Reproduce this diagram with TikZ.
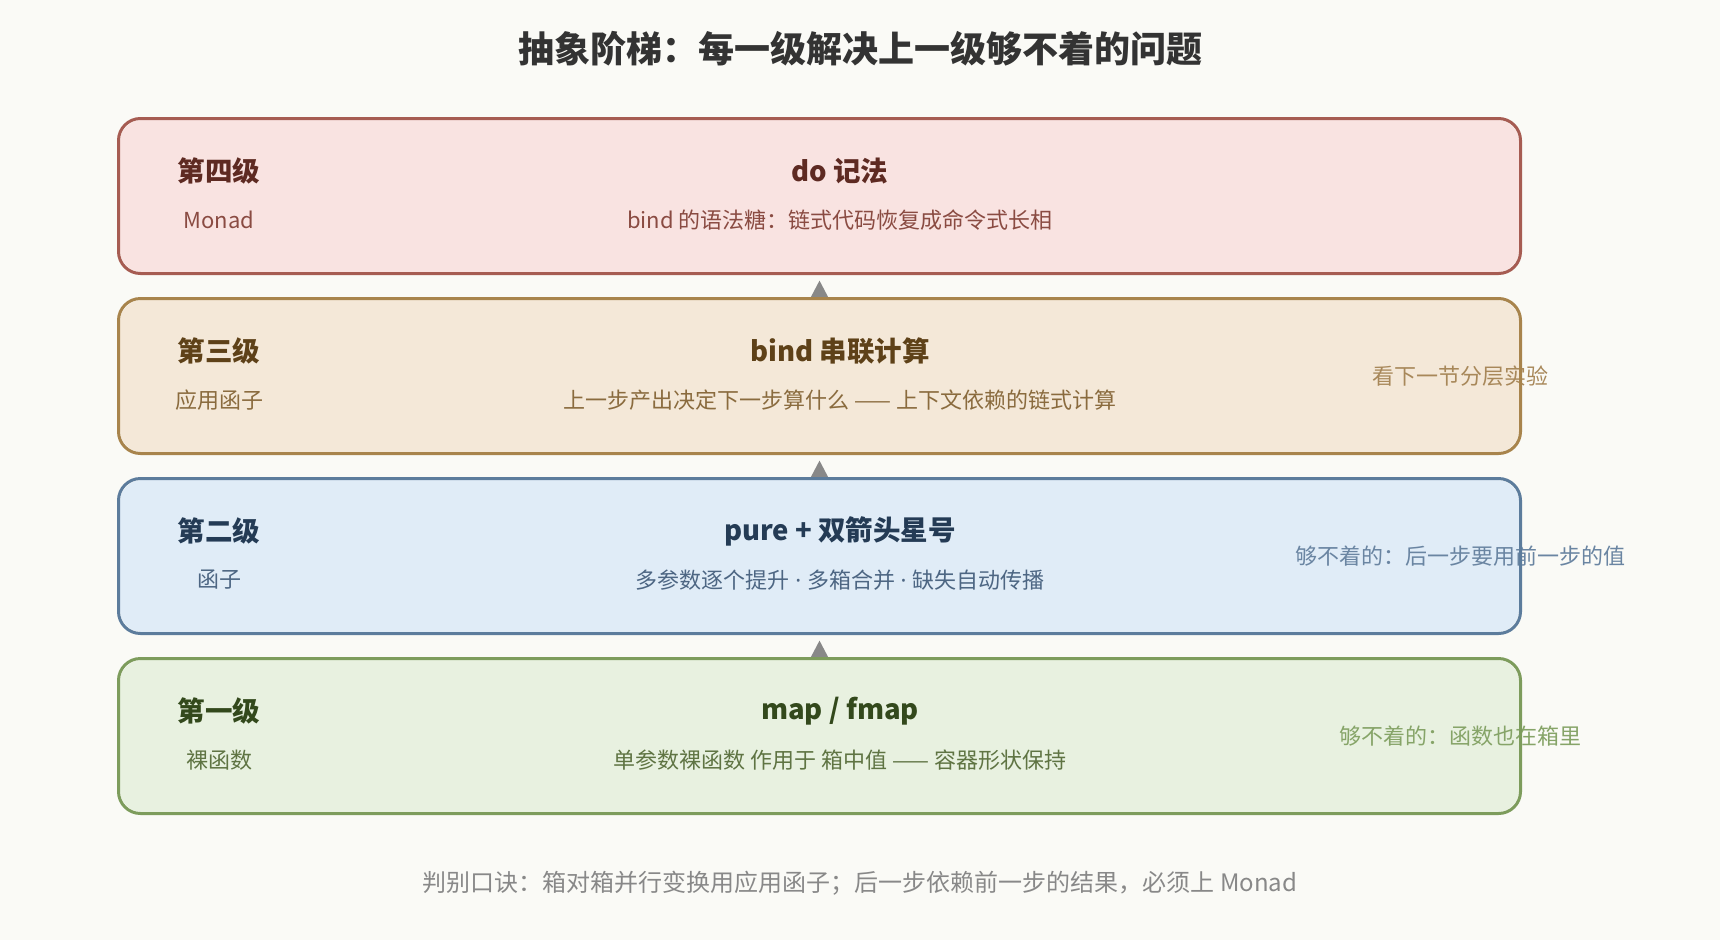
\documentclass[tikz,border=0pt]{standalone}
\usepackage{fontspec}
\setmainfont{Noto Sans CJK SC}
\newfontfamily\latinfont{Noto Sans}
\newcommand{\mdot}{{\latinfont\ ·\ }}
\usetikzlibrary{arrows.meta}
\definecolor{bg}{HTML}{FAFAF6}
\definecolor{fA}{HTML}{F9E3E1}\definecolor{dA}{HTML}{A65C52}\definecolor{tA}{HTML}{5E2A22}\definecolor{sA}{HTML}{8A4B42}
\definecolor{fB}{HTML}{F4E8D8}\definecolor{dB}{HTML}{A8844C}\definecolor{tB}{HTML}{5E4118}\definecolor{sB}{HTML}{8A6B3E}\definecolor{nB}{HTML}{A8885A}
\definecolor{fC}{HTML}{E0ECF7}\definecolor{dC}{HTML}{5C7C9C}\definecolor{tC}{HTML}{243B55}\definecolor{sC}{HTML}{4D6683}\definecolor{nC}{HTML}{6A85A2}
\definecolor{fD}{HTML}{E8F1E0}\definecolor{dD}{HTML}{7D9C5C}\definecolor{tD}{HTML}{33491C}\definecolor{sD}{HTML}{5F7443}\definecolor{nD}{HTML}{86A468}
\definecolor{arr}{HTML}{888888}
\tikzset{
  levelbox/.style={rectangle, rounded corners=22pt, minimum width=1399pt, minimum height=152pt, inner sep=0pt, line width=3pt},
  boxedge/.style={rounded corners=22pt, line width=3pt},
  ttl/.style={font=\fontsize{27.5}{32}\selectfont\bfseries, anchor=center, inner sep=0pt},
  sub/.style={font=\fontsize{22}{26}\selectfont, anchor=center, inner sep=0pt},
  note/.style={font=\fontsize{22}{26}\selectfont, anchor=center, inner sep=0pt},
  uparrow/.style={draw=arr, fill=arr, line width=3pt, -{Triangle[length=19pt,width=19pt]}, shorten >=7pt},
}
\begin{document}
\begin{tikzpicture}[x=1pt,y=-1pt]
\path[fill=bg] (0,0) rectangle (1720,940);
\useasboundingbox (0,0) rectangle (1720,940);

\node[font=\fontsize{36}{42}\selectfont\bfseries, text=black!80] (title) at (860,49) {抽象阶梯：每一级解决上一级够不着的问题};

% boxes
\node[levelbox, fill=fA] (b4) at (819.5,196) {};
\node[levelbox, fill=fB] (b3) at (819.5,376) {};
\node[levelbox, fill=fC] (b2) at (819.5,556) {};
\node[levelbox, fill=fD] (b1) at (819.5,736) {};

% arrows
\draw[uparrow] (b1.north) -- (b2.south);
\draw[uparrow] (b2.north) -- (b3.south);
\draw[uparrow] (b3.north) -- (b4.south);

% level 4
\node[ttl, text=tA] (l4) at (219,171) {第四级};
\node[sub, text=sA] (l4s) at (219,220) {Monad};
\node[ttl, text=tA] (c4) at (840,171) {do 记法};
\node[sub, text=sA] (c4s) at (840,220) {bind 的语法糖：链式代码恢复成命令式长相};

% level 3
\node[ttl, text=tB] (l3) at (219,351) {第三级};
\node[sub, text=sB] (l3s) at (219,400) {应用函子};
\node[ttl, text=tB] (c3) at (840,351) {bind 串联计算};
\node[sub, text=sB] (c3s) at (840,400) {上一步产出决定下一步算什么 —— 上下文依赖的链式计算};
\node[note, text=nB] (n3) at (1460,376) {看下一节分层实验};

% level 2
\node[ttl, text=tC] (l2) at (219,531) {第二级};
\node[sub, text=sC] (l2s) at (219,580) {函子};
\node[ttl, text=tC] (c2) at (840,531) {pure\ + 双箭头星号};
\node[sub, text=sC] (c2s) at (840,580) {多参数逐个提升\mdot 多箱合并\mdot 缺失自动传播};
\node[note, text=nC] (n2) at (1460,556) {够不着的：后一步要用前一步的值};

% level 1
\node[ttl, text=tD] (l1) at (219,711) {第一级};
\node[sub, text=sD] (l1s) at (219,760) {裸函数};
\node[ttl, text=tD] (c1) at (840,711) {map / fmap};
\node[sub, text=sD] (c1s) at (840,760) {单参数裸函数 作用于 箱中值 —— 容器形状保持};
\node[note, text=nD] (n1) at (1460,736) {够不着的：函数也在箱里};

% borders on top
\draw[boxedge, draw=dA] (b4.south west) rectangle (b4.north east);
\draw[boxedge, draw=dB] (b3.south west) rectangle (b3.north east);
\draw[boxedge, draw=dC] (b2.south west) rectangle (b2.north east);
\draw[boxedge, draw=dD] (b1.south west) rectangle (b1.north east);

\node[font=\fontsize{24}{28}\selectfont, text=arr] (foot) at (860,883) {判别口诀：箱对箱并行变换用应用函子；后一步依赖前一步的结果，必须上 Monad};
\end{tikzpicture}
\end{document}
